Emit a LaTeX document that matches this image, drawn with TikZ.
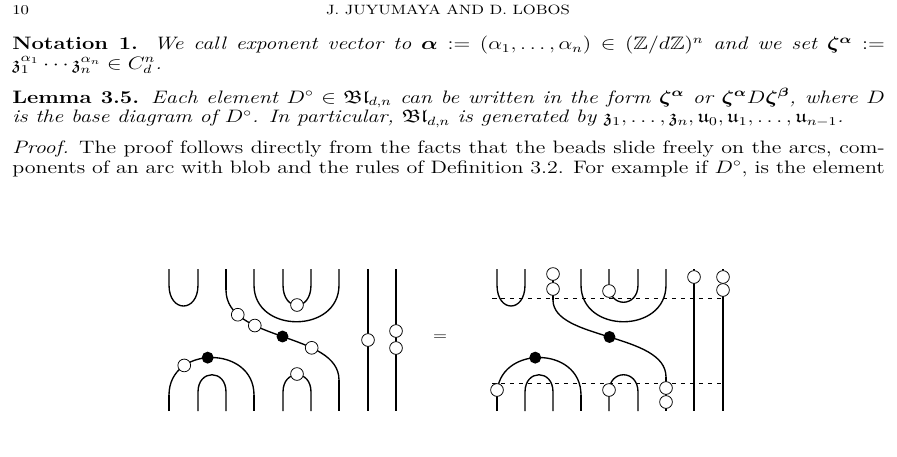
\documentclass[tikz,border=0pt]{standalone}
\usepackage{amsmath,amssymb,amsfonts}
\usepackage{bm}
\usepackage{tikz}
\usetikzlibrary{positioning}
\newcommand{\widepar}[1]{\scalebox{1.22}[1]{\parbox{477pt}{\fontsize{12}{13}\selectfont #1}}}

\begin{document}
\begin{tikzpicture}[
  x=0.667pt, y=-0.667pt,
  para/.style={anchor=north west, inner sep=0pt},
  strand/.style={line width=0.9pt},
  bead/.style={circle, draw, fill=white, line width=0.5pt, minimum size=8.5pt, inner sep=0pt},
  fbead/.style={circle, draw, fill=black, minimum size=7pt, inner sep=0pt},
  cut/.style={dashed, line width=0.5pt}
  ]
\useasboundingbox (0,0) rectangle (897,456);

% Header and text
\node[anchor=west, inner sep=0pt] (pnum) at (12,10) {\scalebox{1.2}[1]{\small 10}};
\node[inner sep=0pt] (head) at (448,10) {\scalebox{1.2}[1]{\small J. JUYUMAYA AND D. LOBOS}};
\node[para] (notation) at (12,36) {\widepar{\textbf{Notation 1.} \itshape We call exponent vector to $\bm{\alpha} := (\alpha_1,\dots,\alpha_n)\in(\mathbb{Z}/d\mathbb{Z})^n$ and we set $\bm{\zeta}^{\bm{\alpha}} :=$\linebreak $\mathfrak{z}_1^{\alpha_1}\cdots\mathfrak{z}_n^{\alpha_n}\in C_d^n$.}};
\node[para] (lemma) at (12,88) {\widepar{\textbf{Lemma 3.5.} \itshape Each element $D^\circ\in\mathfrak{Bl}_{d,n}$ can be written in the form $\bm{\zeta}^{\bm{\alpha}}$ or $\bm{\zeta}^{\bm{\alpha}}D\bm{\zeta}^{\bm{\beta}}$, where $D$\linebreak is the base diagram of $D^\circ$. In particular, $\mathfrak{Bl}_{d,n}$ is generated by $\mathfrak{z}_1,\dots,\mathfrak{z}_n,\mathfrak{u}_0,\mathfrak{u}_1,\dots,\mathfrak{u}_{n-1}$.}};
\node[para] (proof) at (12,141) {\widepar{\textit{Proof.} The proof follows directly from the facts that the beads slide freely on the arcs, com-\linebreak ponents of an arc with blob and the rules of Definition 3.2. For example if $D^\circ$, is the element}};

% Left diagram: top cups
\draw[strand] (169,269) -- (169,285) .. controls (169,313) and (198,313) .. (198,285) -- (198,269);
\draw[strand] (283,269) -- (283,285) .. controls (283,312) and (311,312) .. (311,285) -- (311,269);
\node[bead] (l1) at (297,305) {};
\draw[strand] (254,269) -- (254,285) .. controls (254,334) and (339,334) .. (339,285) -- (339,269);
% crossing strand
\draw[strand] (226,269) -- (226,290);
\draw[strand] (339,380) -- (339,411);
\draw[strand] (226,290) .. controls (226,342) and (339,332) .. (339,380)
  node[bead, pos=0.2] (l2) {} node[bead, pos=0.33] (l3) {} node[fbead, pos=0.5] (l4) {} node[bead, pos=0.68] (l5) {};
% bottom caps
\draw[strand] (169,411) -- (169,395);
\draw[strand] (254,395) -- (254,411);
\draw[strand] (169,395) .. controls (169,345) and (254,345) .. (254,395)
  node[bead, pos=0.27] (l6) {} node[fbead, pos=0.47] (l7) {};
\draw[strand] (198,411) -- (198,392) .. controls (198,369) and (226,369) .. (226,392) -- (226,411);
\draw[strand] (283,411) -- (283,392) .. controls (283,369) and (311,369) .. (311,392) -- (311,411);
\node[bead] (l8) at (297,374) {};
% vertical strands
\draw[strand] (368,269) -- (368,411);
\node[bead] (l9) at (368,340) {};
\draw[strand] (396,269) -- (396,411);
\node[bead] (l10) at (396,331) {};
\node[bead] (l11) at (396,348) {};

\node (eq) at (440,338) {\scalebox{1.2}[1]{$=$}};

% Right diagram
\draw[cut] (492,298) -- (723,298);
\draw[cut] (492,383) -- (723,383);
\draw[strand] (497,269) -- (497,285) .. controls (497,313) and (525,313) .. (525,285) -- (525,269);
\draw[strand] (609,269) -- (609,285) .. controls (609,308) and (638,308) .. (638,285) -- (638,269);
\node[bead] (r1) at (609,291) {};
\draw[strand] (581,269) -- (581,285) .. controls (581,334) and (666,334) .. (666,285) -- (666,269);
\draw[strand] (553,269) -- (553,300);
\draw[strand] (666,377) -- (666,411);
\draw[strand] (553,300) .. controls (553,340) and (666,333) .. (666,377)
  node[fbead, pos=0.5] (r2) {};
\node[bead] (r3) at (553,274) {};
\node[bead] (r4) at (553,289) {};
\node[bead] (r5) at (666,388) {};
\node[bead] (r6) at (666,402) {};
\draw[strand] (497,411) -- (497,395);
\draw[strand] (581,395) -- (581,411);
\draw[strand] (497,395) .. controls (497,345) and (581,345) .. (581,395)
  node[fbead, pos=0.47] (r7) {};
\node[bead] (r8) at (497,390) {};
\draw[strand] (525,411) -- (525,392) .. controls (525,369) and (553,369) .. (553,392) -- (553,411);
\draw[strand] (609,411) -- (609,392) .. controls (609,369) and (638,369) .. (638,392) -- (638,411);
\node[bead] (r9) at (609,390) {};
\draw[strand] (694,269) -- (694,411);
\node[bead] (r10) at (694,277) {};
\draw[strand] (723,269) -- (723,411);
\node[bead] (r11) at (723,277) {};
\node[bead] (r12) at (723,290) {};

\end{tikzpicture}
\end{document}
